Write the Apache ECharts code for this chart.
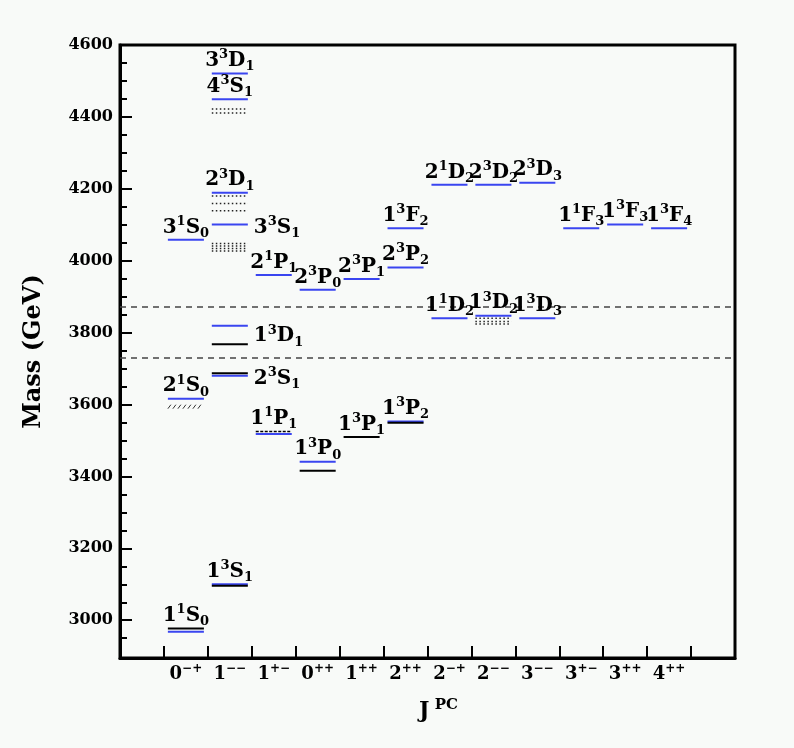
<!DOCTYPE html>
<html><head><meta charset="utf-8">
<script src="https://cdn.jsdelivr.net/npm/echarts@6/dist/echarts.min.js"></script>
<style>html,body{margin:0;padding:0;background:#f8faf8}#c{width:794px;height:748px}</style>
</head><body><div id="c"></div>
<script>
// ---- categories (J^PC) ----
const catJ  = [' ', '0','1','1','0','1','2','2','2','3','3','3','4','  '];
const catPC = ['',  '−+','−−','+−','++','++','++','−+','−−','−−','+−','++','++',''];
// ---- y ticks ----
const yTickValues  = [3000,3200,3400,3600,3800,4000,4200,4400,4600];
const yMinorValues = [2950,3050,3100,3150,3250,3300,3350,3450,3500,3550,3650,3700,3750,
                      3850,3900,3950,4050,4100,4150,4250,4300,4350,4450,4500,4550];
// ---- theory levels (blue) : label n,2S+1,L,J ----
const theoryLabel = ['1,1,S,0','2,1,S,0','3,1,S,0','1,3,S,1','2,3,S,1','1,3,D,1','3,3,S,1','2,3,D,1','4,3,S,1','3,3,D,1',
                     '1,1,P,1','2,1,P,1','1,3,P,0','2,3,P,0','1,3,P,1','2,3,P,1','1,3,P,2','2,3,P,2','1,3,F,2',
                     '1,1,D,2','2,1,D,2','1,3,D,2','2,3,D,2','1,3,D,3','2,3,D,3','1,1,F,3','1,3,F,3','1,3,F,4'];
const theoryCat  = [1,1,1,2,2,2,2,2,2,2, 3,3,4,4,5,5,6,6,6, 7,7,8,8,9,9,10,11,12];
const theoryMass = [2968,3616,4058,3100,3680,3819,4101,4189,4449,4521,
                    3518,3960,3441,3919,3510,3949,3553,3981,4090,
                    3840,4211,3847,4211,3840,4217,4090,4101,4090];
// label anchors (mass) and side
const labelMass = [2977,3616,4058,3100,3672,3790,4092,4189,4449,4521,
                   3525,3960,3441,3919,3510,3949,3553,3981,4090,
                   3840,4211,3847,4211,3840,4217,4090,4101,4090];
const labelSide = ['top','top','top','top','right','right','right','top','top','top',
                   'top','top','top','top','top','top','top','top','top',
                   'top','top','top','top','top','top','top','top','top'];
// ---- experimental levels (black) ----
const expCat  = [1,2,2,2,4,5,6];
const expMass = [2977,3096,3687,3768,3416,3510,3549];
const expDashedCat  = [3];
const expDashedMass = [3525];
// broad states (dotted rows)
const broadCat  = [2,2,2,2, 2,2,2, 2,2, 8,8,8];
const broadMass = [4048,4041,4034,4027, 4180,4159,4139, 4422,4411, 3840,3831,3824];
// hatched experimental level
const hatchCat  = [1];
const hatchMass = [3594];
// thresholds (dashed)
const thresholdMass = [3730, 3871];

const FONT = 'DejaVu Serif';
const BLUE = '#3a45f0';
const YMIN = 2895, YMAX = 4600;

function lvlText(s){ const p = s.split(','); return '{m|'+p[0]+'}{p|'+p[1]+'}{m|'+p[2]+'}{b|'+p[3]+'}'; }
const richLvl = {
  m:{fontFamily:FONT,fontWeight:'bold',fontSize:20,lineHeight:25,fill:'#000'},
  p:{fontFamily:FONT,fontWeight:'bold',fontSize:13,lineHeight:13,verticalAlign:'top',fill:'#000'},
  b:{fontFamily:FONT,fontWeight:'bold',fontSize:13,lineHeight:13,verticalAlign:'bottom',fill:'#000'}
};
const zip = (a,b) => a.map((v,i)=>[v,b[i]]);

function segItem(style){
  return function(params, api){
    const c = api.coord([api.value(0), api.value(1)]);
    const hw = api.size([1,0])[0]*0.41;
    return {type:'line', shape:{x1:c[0]-hw, y1:c[1], x2:c[0]+hw, y2:c[1]}, style:Object.assign({}, style)};
  };
}

const chart = echarts.init(document.getElementById('c'));
chart.setOption({
  backgroundColor:'#f8faf8',
  animation:false,
  grid:[
    {left:120,right:59,top:45,bottom:90,show:true,borderColor:'#000',borderWidth:3,backgroundColor:'transparent',containLabel:false},
    {left:120,right:59,top:45,bottom:90,show:false,containLabel:false}
  ],
  xAxis:[{
    type:'category', gridIndex:0, boundaryGap:true,
    data: catJ.map((j,i)=> j + catPC[i]),
    axisLine:{show:true,lineStyle:{color:'#000',width:3}},
    axisTick:{show:true,inside:true,length:12,interval:0,lineStyle:{color:'#000',width:2}},
    axisLabel:{show:true,interval:0,margin:5,fontFamily:FONT,fontWeight:'bold',fontSize:18,color:'#000',
      formatter:(v,i)=> catPC[i] ? '{a|'+catJ[i]+'}{s|'+catPC[i]+'}' : '',
      rich:{a:{fontFamily:FONT,fontWeight:'bold',fontSize:18,lineHeight:22,color:'#000'},
            s:{fontFamily:FONT,fontWeight:'bold',fontSize:12,lineHeight:12,verticalAlign:'top',color:'#000'}}},
    splitLine:{show:false},
    name:'{a|J}{s| PC}', nameLocation:'middle', nameGap:40,
    nameTextStyle:{padding:[0,0,0,22],rich:{a:{fontFamily:FONT,fontWeight:'bold',fontSize:22,lineHeight:26,color:'#000'},
                                    s:{fontFamily:FONT,fontWeight:'bold',fontSize:15,lineHeight:15,verticalAlign:'top',color:'#000'}}}
  },{
    type:'value', gridIndex:1, min:0, max:1, show:false
  }],
  yAxis:[{
    type:'value', gridIndex:0, min:YMIN, max:YMAX,
    axisLine:{show:true,lineStyle:{color:'#000',width:3}},
    axisTick:{show:true,inside:true,length:12,customValues:yTickValues,lineStyle:{color:'#000',width:2}},
    axisLabel:{show:true,customValues:yTickValues,margin:7,formatter:(v)=>String(v),
      fontFamily:FONT,fontWeight:'bold',fontSize:16,color:'#000'},
    splitLine:{show:false},
    name:'Mass (GeV)', nameLocation:'middle', nameRotate:90, nameGap:74,
    nameTextStyle:{fontFamily:FONT,fontWeight:'bold',fontSize:24,color:'#000'}
  },{
    type:'value', gridIndex:1, min:YMIN, max:YMAX,
    axisLine:{show:false},
    axisTick:{show:true,inside:true,length:7,customValues:yMinorValues,lineStyle:{color:'#000',width:2}},
    axisLabel:{show:false}, splitLine:{show:false}
  }],
  series:[
    { // thresholds
      type:'line', xAxisIndex:0, yAxisIndex:0, data:[], silent:true,
      markLine:{symbol:['none','none'], silent:true, label:{show:false}, animation:false,
        lineStyle:{color:'#444',width:1.5,type:[6,5]},
        data: thresholdMass.map(m=>({yAxis:m}))}
    },
    { // theory (blue)
      type:'custom', xAxisIndex:0, yAxisIndex:0, z:3, silent:true,
      data: zip(theoryCat, theoryMass),
      renderItem: function(params, api){
        if (theoryLabel[params.dataIndex] === '1,3,P,1') return null;
        return segItem({stroke:BLUE,lineWidth:2})(params, api);
      }
    },
    { // experiment (black)
      type:'custom', xAxisIndex:0, yAxisIndex:0, z:4, silent:true,
      data: zip(expCat, expMass),
      renderItem: segItem({stroke:'#000',lineWidth:2})
    },
    { // experiment dashed
      type:'custom', xAxisIndex:0, yAxisIndex:0, z:4, silent:true,
      data: zip(expDashedCat, expDashedMass),
      renderItem: segItem({stroke:'#000',lineWidth:1.5,lineDash:[3,1.5]})
    },
    { // broad states
      type:'custom', xAxisIndex:0, yAxisIndex:0, z:4, silent:true,
      data: zip(broadCat, broadMass),
      renderItem: segItem({stroke:'#222',lineWidth:1.5,lineDash:[1.5,2.5]})
    },
    { // hatched
      type:'custom', xAxisIndex:0, yAxisIndex:0, z:4, silent:true,
      data: zip(hatchCat, hatchMass),
      renderItem: function(params, api){
        const c = api.coord([api.value(0), api.value(1)]);
        const hw = api.size([1,0])[0]*0.41;
        const ch = [];
        for (let x = c[0]-hw; x <= c[0]+hw-3; x += 5) {
          ch.push({type:'line', shape:{x1:x, y1:c[1]+2, x2:x+3, y2:c[1]-2}, style:{stroke:'#333',lineWidth:1}});
        }
        return {type:'group', children:ch};
      }
    },
    { // labels
      type:'custom', xAxisIndex:0, yAxisIndex:0, z:5, silent:true,
      data: zip(theoryCat, labelMass),
      renderItem: function(params, api){
        const i = params.dataIndex;
        const c = api.coord([api.value(0), api.value(1)]);
        const hw = api.size([1,0])[0]*0.41;
        const top = labelSide[i] === 'top';
        return {type:'text', x: top ? c[0] : c[0]+hw+6, y: c[1],
          style:{text:lvlText(theoryLabel[i]), rich:richLvl, fill:'#000',
                 font:'bold 20px '+FONT,
                 align: top ? 'center' : 'left', verticalAlign: top ? 'bottom' : 'middle'}};
      }
    }
  ]
});
</script>
</body></html>
